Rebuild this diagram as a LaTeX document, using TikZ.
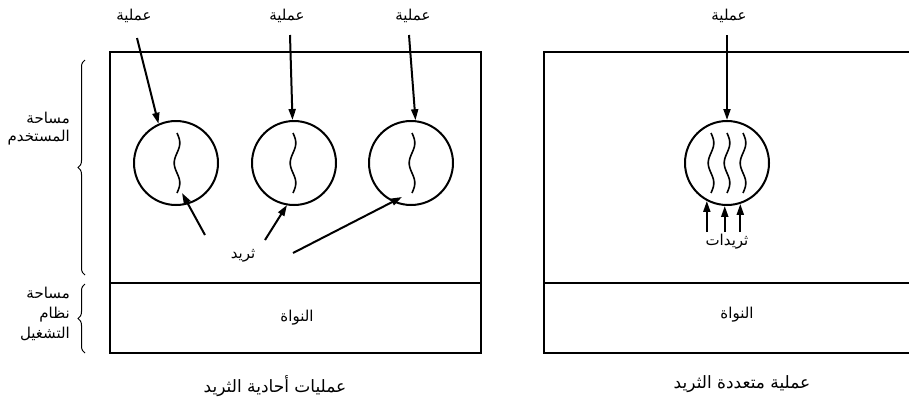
\documentclass[tikz,border=0pt]{standalone}
\usepackage{fontspec}
\setmainfont{DejaVu Sans}
\newfontfamily\arabicfont[Script=Arabic]{DejaVu Sans}
\TeXXeTstate=1
\usetikzlibrary{arrows.meta,decorations.pathreplacing}
\newcommand{\ar}[1]{\beginR #1\endR}
\tikzset{
  lbl/.style={font=\arabicfont\fontsize{15}{17}\selectfont, inner sep=0pt},
  captxt/.style={font=\arabicfont\fontsize{17}{19}\selectfont, inner sep=0pt},
  boxline/.style={line width=2.7pt},
  proc/.style={circle, draw, line width=2pt, minimum size=84pt, inner sep=0pt},
  parrow/.style={line width=2pt, -{Triangle[length=11pt,width=7pt]}},
  threadline/.style={line width=1.6pt},
  bracestyle/.style={line width=1pt, decorate, decoration={brace, amplitude=7pt}}
}
\newcommand{\mythread}[2]{\draw[threadline] plot[smooth, domain=0:60, samples=40] ({#1+2.8*sin(\x*9)},{#2+\x});}
\begin{document}
\begin{tikzpicture}[x=1pt,y=-1pt]
\useasboundingbox (0,0) rectangle (909,399);
% left box
\draw[boxline] (110,52) rectangle (481,353);
\draw[line width=2.6pt] (110,283) -- (481,283);
% right box
\draw[boxline] (909,52) -- (544,52) -- (544,353) -- (909,353);
\draw[line width=1.5pt] (544,283) -- (909,283);
% braces
\draw[bracestyle] (85,275) -- (85,60);
\draw[bracestyle] (85,353) -- (85,284);
\node[lbl, anchor=east, align=right, font=\arabicfont\fontsize{15}{18}\selectfont] (us) at (70,129) {\ar{مساحة}\\\ar{المستخدم}};
\node[lbl, anchor=east, align=right, font=\arabicfont\fontsize{15}{20}\selectfont] (os) at (70,314) {\ar{مساحة}\\\ar{نظام}\\\ar{التشغيل}};
% circles
\node[proc] (c1) at (176,163) {};
\node[proc] (c2) at (294,163) {};
\node[proc] (c3) at (411,163) {};
\node[proc] (cr) at (727,163) {};
% threads
\mythread{177}{133}
\mythread{293}{133}
\mythread{412}{133}
\mythread{711}{133}
\mythread{727}{133}
\mythread{743}{133}
% process labels
\node[lbl] (p1) at (134,16) {\ar{عملية}};
\node[lbl] (p2) at (287,16) {\ar{عملية}};
\node[lbl] (p3) at (413,16) {\ar{عملية}};
\node[lbl] (pr) at (729,16) {\ar{عملية}};
\coordinate (t1) at (137,38);
\coordinate (t2) at (290,35);
\coordinate (t3) at (409,35);
\coordinate (tr) at (727,35);
\draw[parrow] (t1) -- (c1.114);
\draw[parrow] (t2) -- (c2.92);
\draw[parrow] (t3) -- (c3.84);
\draw[parrow] (tr) -- (cr.north);
% thread labels and arrows
\node[lbl] (th) at (243,256) {\ar{ثريد}};
\coordinate (a1) at (205,235);
\coordinate (a2) at (265,240);
\coordinate (a3) at (293,253);
\coordinate (h1) at (182,193);
\coordinate (h2) at (287,205);
\coordinate (h3) at (402,197);
\draw[parrow] (a1) -- (h1);
\draw[parrow] (a2) -- (h2);
\draw[parrow] (a3) -- (h3);
\node[lbl] (ths) at (727,242) {\ar{ثريدات}};
\coordinate (bt) at (0,232);
\coordinate (b1) at (cr.242 |- bt);
\coordinate (b2) at (cr.267 |- bt);
\coordinate (b3) at (cr.288 |- bt);
\draw[parrow] (b1) -- (cr.242);
\draw[parrow] (b2) -- (cr.267);
\draw[parrow] (b3) -- (cr.288);
% kernel labels
\node[lbl] (k1) at (297,318) {\ar{النواة}};
\node[lbl] (k2) at (737,315) {\ar{النواة}};
% captions
\node[captxt] (cl) at (275,386) {\ar{عمليات أحادية الثريد}};
\node[captxt] (cr2) at (742,384) {\ar{عملية متعددة الثريد}};
\end{tikzpicture}
\end{document}
